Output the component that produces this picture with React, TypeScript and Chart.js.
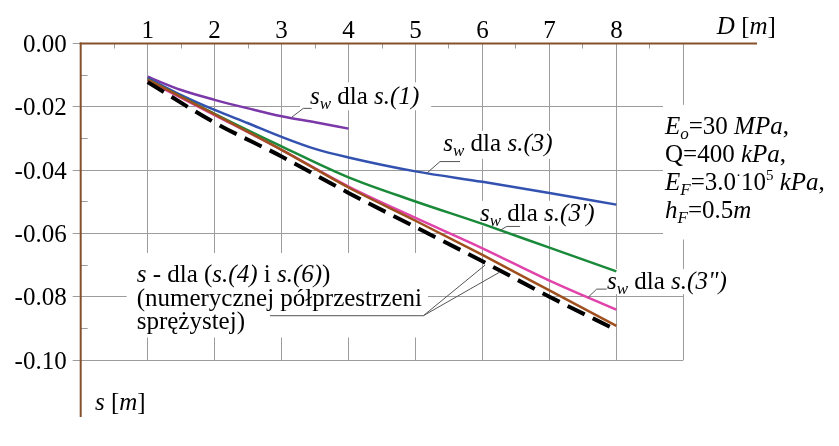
import { useEffect, useRef } from "react";
import { Chart, registerables } from "chart.js";

Chart.register(...registerables);

const SERIF = "'Liberation Serif', 'Times New Roman', Times, 'DejaVu Serif', serif";
const FONT_SIZE = 25;

// Foundation length D [m] at which settlements were computed
const dS1 = [1, 1.5, 2, 2.5, 3, 3.5, 4];
const dS3 = [1, 1.5, 2, 2.5, 3, 3.5, 4, 5, 6, 7, 8];
const dFull = [1, 2, 3, 4, 5, 6, 7, 8];

// Settlement s [m]
const swS1 = [-0.0105, -0.0147, -0.0178, -0.0205, -0.023, -0.0249, -0.0269];
const swS3 = [-0.0109, -0.0163, -0.021, -0.0252, -0.0295, -0.0333, -0.036, -0.0404, -0.0437, -0.0472, -0.0509];
const swS3p = [-0.0113, -0.0222, -0.0325, -0.0423, -0.0499, -0.057, -0.0645, -0.072];
const swS3pp = [-0.0117, -0.0226, -0.0336, -0.0452, -0.0551, -0.0647, -0.0749, -0.0841];
const sNum4 = [-0.0114, -0.0224, -0.0336, -0.0455, -0.056, -0.0668, -0.078, -0.0892];
const sNum6 = [-0.0122, -0.025, -0.0357, -0.0472, -0.058, -0.0688, -0.08, -0.0905];

// Axes
const xTickValues = [1, 2, 3, 4, 5, 6, 7, 8];
const xTickLabels = ["1", "2", "3", "4", "5", "6", "7", "8"];
const xGridValues = [1, 2, 3, 4, 5, 6, 7, 8, 9];
const xMinorValues = [0.5, 1.5, 2.5, 3.5, 4.5, 5.5, 6.5, 7.5, 8.5];
const yTickValues = [0, -0.02, -0.04, -0.06, -0.08, -0.1];
const yTickLabels = ["0.00", "-0.02", "-0.04", "-0.06", "-0.08", "-0.10"];
const yMinorValues = [-0.01, -0.03, -0.05, -0.07, -0.09];
const X_MIN = 0;
const X_MAX = 10.1;
const Y_MIN = -0.118;
const Y_MAX = 0;
const X_GRID_END = 9;
const Y_GRID_END = -0.1;

const AXIS = "#86502a";
const GRID = "#9c9c9c";
const LEADER = "#555555";

type Run = { t: string; it?: boolean; sub?: boolean; sup?: boolean };

const sw = (ref: string): Run[] => [
  { t: "s", it: true },
  { t: "w", it: true, sub: true },
  { t: " dla " },
  { t: ref, it: true },
];

const paramLines: Run[][] = [
  [{ t: "E", it: true }, { t: "o", it: true, sub: true }, { t: "=30 " }, { t: "MPa", it: true }, { t: "," }],
  [{ t: "Q=400 " }, { t: "kPa", it: true }, { t: "," }],
  [
    { t: "E", it: true },
    { t: "F", it: true, sub: true },
    { t: "=3.0" },
    { t: "·", sup: true },
    { t: "10" },
    { t: "5", sup: true },
    { t: " " },
    { t: "kPa", it: true },
    { t: "," },
  ],
  [{ t: "h", it: true }, { t: "F", it: true, sub: true }, { t: "=0.5" }, { t: "m", it: true }],
];

const numLines: Run[][] = [
  [{ t: "s", it: true }, { t: " - dla (" }, { t: "s.(4)", it: true }, { t: " i " }, { t: "s.(6)", it: true }, { t: ")" }],
  [{ t: "(numerycznej półprzestrzeni" }],
  [{ t: "sprężystej)" }],
];

// Text blocks: anchor (D, s) of the first baseline, line gap, white box padding [left, top, right, bottom]
const labels = [
  { lines: [sw("s.(1)")], at: [3.424, -0.0192], gap: 0, box: [10, 22, 12, 6] },
  { lines: [sw("s.(3)")], at: [5.415, -0.0339], gap: 0, box: [10, 20, 8, 8] },
  { lines: [sw("s.(3')")], at: [5.963, -0.056], gap: 0, box: [4, 20, 6, 5] },
  { lines: [sw('s.(3")')], at: [7.86, -0.0776], gap: 0, box: [4, 20, 6, 5] },
  { lines: paramLines, at: [8.726, -0.0287], gap: 27.9, box: [2, 29.5, 10, 21.5] },
  { lines: numLines, at: [0.836, -0.0755], gap: 23.5, box: [10, 29.5, 6, 8] },
];

// Leader lines (D, s)
const leaders = [
  [[3.151, -0.0233], [3.324, -0.0205], [3.449, -0.0205]],
  [[5.172, -0.0409], [5.366, -0.0373], [5.665, -0.0373]],
  [[6.263, -0.059], [6.363, -0.0578], [6.562, -0.0578]],
  [[7.581, -0.0801], [7.706, -0.0776], [7.855, -0.0776]],
  [[2.827, -0.086], [5.117, -0.086], [6.04, -0.07]],
  [[5.117, -0.086], [6.26, -0.0722]],
];

const dAxisTitle: Run[] = [{ t: "D", it: true }, { t: " [" }, { t: "m", it: true }, { t: "]" }];
const sAxisTitle: Run[] = [{ t: "s", it: true }, { t: " [" }, { t: "m", it: true }, { t: "]" }];

function runFont(r: Run) {
  const size = r.sub ? 17 : r.sup ? 15 : FONT_SIZE;
  return `${r.it ? "italic " : "normal "}${size}px ${SERIF}`;
}

function runsWidth(ctx: CanvasRenderingContext2D, runs: Run[]) {
  let w = 0;
  for (const r of runs) {
    ctx.font = runFont(r);
    w += ctx.measureText(r.t).width;
  }
  return w;
}

function drawRuns(ctx: CanvasRenderingContext2D, runs: Run[], x: number, y: number) {
  let cx = x;
  ctx.textAlign = "left";
  ctx.textBaseline = "alphabetic";
  ctx.fillStyle = "#000";
  for (const r of runs) {
    ctx.font = runFont(r);
    ctx.fillText(r.t, cx, y + (r.sub ? 5 : r.sup ? -10 : 0));
    cx += ctx.measureText(r.t).width;
  }
}

const crisp = (v: number) => Math.round(v - 0.5) + 0.5;

function seg(ctx: CanvasRenderingContext2D, x1: number, y1: number, x2: number, y2: number) {
  ctx.beginPath();
  ctx.moveTo(x1, y1);
  ctx.lineTo(x2, y2);
  ctx.stroke();
}

const decor = {
  id: "decor",
  beforeDatasetsDraw(chart: any) {
    const { ctx, scales } = chart;
    const x = scales.x;
    const y = scales.y;
    const px = (v: number) => x.getPixelForValue(v);
    const py = (v: number) => y.getPixelForValue(v);
    ctx.save();
    ctx.strokeStyle = GRID;
    ctx.lineWidth = 1;
    for (const v of yTickValues) seg(ctx, px(X_MIN) - 8, crisp(py(v)), px(X_GRID_END), crisp(py(v)));
    for (const v of xGridValues) seg(ctx, crisp(px(v)), py(Y_MAX), crisp(px(v)), py(Y_GRID_END));
    for (const v of xMinorValues) seg(ctx, crisp(px(v)), py(Y_MAX), crisp(px(v)), py(Y_MAX) + 5);
    for (const v of yMinorValues) seg(ctx, px(X_MIN), crisp(py(v)), px(X_MIN) + 7, crisp(py(v)));

    // white boxes behind the text blocks
    for (const lb of labels) {
      const lx = px(lb.at[0]);
      const ly = py(lb.at[1]);
      let w = 0;
      for (const line of lb.lines) w = Math.max(w, runsWidth(ctx, line));
      const lastY = ly + lb.gap * (lb.lines.length - 1);
      const [pl, pt, pr, pb] = lb.box;
      ctx.fillStyle = "#fff";
      ctx.fillRect(lx - pl, ly - pt, w + pl + pr, lastY + pb - (ly - pt));
    }
    ctx.restore();
  },
  afterDatasetsDraw(chart: any) {
    const { ctx, scales } = chart;
    const x = scales.x;
    const y = scales.y;
    const px = (v: number) => x.getPixelForValue(v);
    const py = (v: number) => y.getPixelForValue(v);
    ctx.save();

    ctx.strokeStyle = LEADER;
    ctx.lineWidth = 1;
    for (const path of leaders) {
      ctx.beginPath();
      path.forEach((p, i) => {
        const X = px(p[0]);
        const Y = py(p[1]);
        if (i === 0) ctx.moveTo(X, Y);
        else ctx.lineTo(X, Y);
      });
      ctx.stroke();
    }

    for (const lb of labels) {
      const lx = px(lb.at[0]);
      const ly = py(lb.at[1]);
      lb.lines.forEach((line, i) => drawRuns(ctx, line, lx, ly + i * lb.gap));
    }

    drawRuns(ctx, dAxisTitle, px(9.5), py(Y_MAX) - 10);
    drawRuns(ctx, sAxisTitle, px(0.213), py(-0.1157));

    // axis lines
    ctx.strokeStyle = AXIS;
    ctx.lineWidth = 2;
    seg(ctx, px(X_MIN) - 1, py(Y_MAX), px(X_MAX), py(Y_MAX));
    seg(ctx, px(X_MIN), py(Y_MAX) - 1, px(X_MIN), py(Y_MIN));
    ctx.restore();
  },
};

const pts = (xs: number[], ys: number[]) => xs.map((d, i) => ({ x: d, y: ys[i] }));

const line = (data: { x: number; y: number }[], color: string, width = 2.5, dash: number[] = []) => ({
  data,
  borderColor: color,
  backgroundColor: color,
  borderWidth: width,
  borderDash: dash,
  pointRadius: 0,
  fill: false,
  cubicInterpolationMode: "monotone" as const,
});

export default function App() {
  const ref = useRef<HTMLCanvasElement>(null);

  useEffect(() => {
    const tickFont = { family: SERIF, size: FONT_SIZE };
    const chart = new Chart(ref.current!, {
      type: "line",
      data: {
        datasets: [
          line(pts(dFull, sNum6), "#000000", 4, [19, 9]),
          line(pts(dFull, sNum4), "#a0501e"),
          line(pts(dFull, swS3pp), "#e044aa"),
          line(pts(dFull, swS3p), "#1a8a3a"),
          line(pts(dS3, swS3), "#3352b0"),
          line(pts(dS1, swS1), "#7b38a8"),
        ],
      },
      options: {
        animation: false,
        responsive: true,
        maintainAspectRatio: false,
        devicePixelRatio: 1,
        layout: { padding: { left: 0, top: 0, right: 82, bottom: 0 } },
        plugins: { legend: { display: false }, tooltip: { enabled: false } },
        scales: {
          x: {
            type: "linear",
            position: "top",
            min: X_MIN,
            max: X_MAX,
            grid: { display: false, drawTicks: false },
            border: { display: false },
            ticks: {
              font: tickFont,
              color: "#000",
              padding: -3,
              autoSkip: false,
              maxRotation: 0,
              callback: (_v: any, i: number) => xTickLabels[i],
            },
            afterBuildTicks: (s: any) => {
              s.ticks = xTickValues.map((value) => ({ value }));
            },
            afterFit: (s: any) => {
              s.height = 43.5;
            },
          },
          y: {
            type: "linear",
            position: "left",
            min: Y_MIN,
            max: Y_MAX,
            grid: { display: false, drawTicks: false },
            border: { display: false },
            ticks: {
              font: tickFont,
              color: "#000",
              padding: 14,
              labelOffset: 2,
              autoSkip: false,
              callback: (_v: any, i: number) => yTickLabels[i],
            },
            afterBuildTicks: (s: any) => {
              s.ticks = yTickValues.map((value) => ({ value }));
            },
            afterFit: (s: any) => {
              s.width = 80.7;
            },
          },
        },
      },
      plugins: [decor],
    } as any);
    return () => chart.destroy();
  }, []);

  return (
    <div style={{ position: "fixed", left: 0, top: 0, width: 839, height: 446, background: "#fff" }}>
      <canvas ref={ref} />
    </div>
  );
}
